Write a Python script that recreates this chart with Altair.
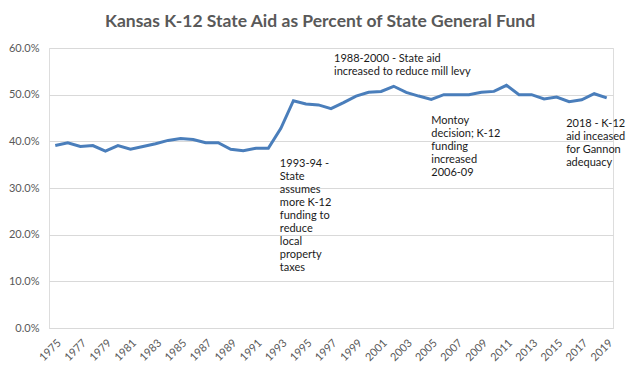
import altair as alt
import pandas as pd

years = list(range(1975, 2020))
aid_pct = [39.1, 39.7, 38.9, 39.1, 37.9, 39.1, 38.3, 38.9, 39.5, 40.2,
           40.6, 40.4, 39.7, 39.7, 38.3, 38.0, 38.5, 38.5, 42.8, 48.7,
           48.0, 47.8, 47.0, 48.3, 49.7, 50.5, 50.7, 51.8, 50.5, 49.7,
           49.0, 50.0, 50.0, 50.0, 50.5, 50.7, 52.0, 50.0, 50.0, 49.1,
           49.5, 48.5, 48.9, 50.2, 49.3]

note_texts = [
    "1993-94 -\nState\nassumes\nmore K-12\nfunding to\nreduce\nlocal\nproperty\ntaxes",
    "1988-2000 - State aid\nincreased to reduce mill levy",
    "Montoy\ndecision; K-12\nfunding\nincreased\n2006-09",
    "2018 - K-12\naid inceased\nfor Gannon\nadequacy",
]
note_years = [1993, 1997, 2005, 2016]
note_pct = [36.4, 58.9, 45.6, 45.0]
note_dx = [-1, 3, 0, -3]

year_labels = [str(y) for y in years]
df = pd.DataFrame({"year": year_labels, "pct": [v / 100 for v in aid_pct]})
notes = pd.DataFrame({
    "year": [str(y) for y in note_years],
    "pct": [v / 100 for v in note_pct],
    "text": note_texts,
})

FONT = "Lato"
GRAY = "#595959"

x_enc = alt.X(
    "year:O",
    scale=alt.Scale(type="point", padding=0.5, domain=year_labels),
    axis=alt.Axis(
        title=None,
        labelAngle=-45,
        labelAlign="right",
        labelBaseline="middle",
        labelExpr="toNumber(datum.value) % 2 == 1 ? datum.value : ''",
        ticks=False,
        labelPadding=13,
        labelOffset=4,
        domainColor="#d9d9d9",
        labelColor=GRAY,
        labelFontSize=11,
        labelFont=FONT,
        grid=False,
    ),
)
y_scale = alt.Scale(domain=[0, 0.6])

line = alt.Chart(df).mark_line(color="#4a7ebb", strokeWidth=3).encode(
    x=x_enc,
    y=alt.Y(
        "pct:Q",
        scale=y_scale,
        axis=alt.Axis(
            title=None,
            format=".1%",
            values=[0, 0.1, 0.2, 0.3, 0.4, 0.5, 0.6],
            domain=False,
            ticks=False,
            labelPadding=10,
            gridColor="#d9d9d9",
            labelColor=GRAY,
            labelFontSize=11,
            labelFont=FONT,
        ),
    ),
)

text_layers = []
for i in range(len(note_texts)):
    text_layers.append(
        alt.Chart(notes.iloc[[i]]).mark_text(
            align="left", baseline="top", fontSize=11, font=FONT, color="#1a1a1a",
            lineBreak="\n", lineHeight=13, dx=int(note_dx[i]),
        ).encode(
            x=alt.X("year:O"),
            y=alt.Y("pct:Q", scale=y_scale),
            text="text:N",
        )
    )

chart = alt.layer(line, *text_layers).properties(
    width=564,
    height=280,
    autosize=alt.AutoSizeParams(type="none"),
    padding={"left": 41, "top": 40, "right": 16, "bottom": 50},
    title=alt.TitleParams(
        "Kansas K-12 State Aid as Percent of State General Fund",
        font=FONT, fontSize=17.5, fontWeight="bold", color=GRAY,
        anchor="middle", offset=12, dx=-11,
    ),
).configure_view(stroke=None).configure(background="white")

chart.save("out.html", embed_options={"renderer": "svg", "actions": False})
